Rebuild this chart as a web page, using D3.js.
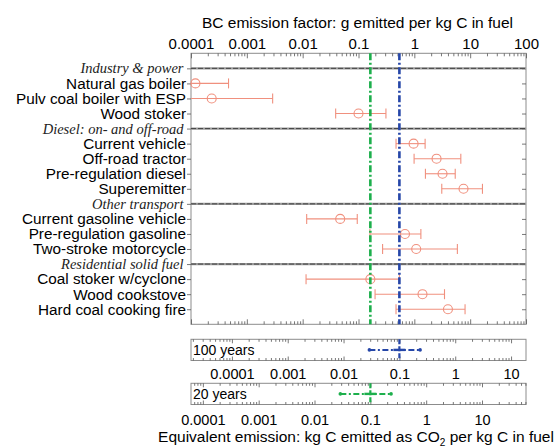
<!DOCTYPE html>
<html><head><meta charset="utf-8">
<script src="https://cdn.jsdelivr.net/npm/d3@7"></script>
<style>body{margin:0;background:#fff} svg{display:block}</style>
</head><body><svg id="c" width="558" height="448"></svg>
<script>
// ---------------- data ----------------
const groups = ["Industry & power", "Diesel: on- and off-road", "Other transport", "Residential solid fuel"];
const sources = ["Natural gas boiler", "Pulv coal boiler with ESP", "Wood stoker",
  "Current vehicle", "Off-road tractor", "Pre-regulation diesel", "Superemitter",
  "Current gasoline vehicle", "Pre-regulation gasoline", "Two-stroke motorcycle",
  "Coal stoker w/cyclone", "Wood cookstove", "Hard coal cooking fire"];
const sourceGroup = [0,0,0, 1,1,1,1, 2,2,2, 3,3,3];
const central = [0.00012, 0.000235, 0.10, 0.97, 2.5, 3.2, 7.6, 0.047, 0.68, 1.08, 0.163, 1.4, 4.0];
const lower   = [0.00008, 0.00008, 0.039, 0.47, 0.99, 1.58, 3.1, 0.0118, 0.16, 0.27, 0.0115, 0.198, 0.47];
const upper   = [0.00047, 0.0029, 0.31, 1.56, 6.8, 5.4, 16.6, 0.095, 1.31, 5.9, 0.54, 3.47, 8.1];
const bcTicks = [0.0001, 0.001, 0.01, 0.1, 1, 10, 100];
const bcTickLabels = ["0.0001", "0.001", "0.01", "0.1", "1", "10", "100"];
const eqTicks = [0.0001, 0.001, 0.01, 0.1, 1, 10];
const eqTickLabels = ["0.0001", "0.001", "0.01", "0.1", "1", "10"];
const horizons = ["100 years", "20 years"];
const bcAtReference = [0.54, 0.163];   // BC factor equal to the reference CO2-equivalent
const eqReference = 0.1;
const eqLower = 0.029, eqUpper = 0.235;
const horizonColors = ["#2546a8", "#1daf4c"];
const topTitle = "BC emission factor: g emitted per kg C in fuel";

// ---------------- layout ----------------
const FONT = "'Liberation Sans', Arial, Helvetica, sans-serif";
const SERIF = "'Liberation Serif', 'Times New Roman', serif";
const L = 191, R = 526, T = 53.3, B = 324.3;
const panelTop = [339.3, 383.3], panelH = 21.2, panelPad = [8, 10];
const salmon = "#f0907e", boxCol = "#8c8c8c", tickCol = "#555";

const svg = d3.select("#c");
const x = d3.scaleLog().domain([bcTicks[0], bcTicks[bcTicks.length-1]]).range([L, R]);

const rows = [];
groups.forEach((g, gi) => {
  rows.push({label: g, header: true});
  sources.forEach((s, i) => { if (sourceGroup[i] === gi) rows.push({label: s, header: false, i}); });
});
const y = d3.scaleLinear().domain([-1, rows.length]).range([T, B]);

function styleAxis(g, fs) {
  g.select(".domain").remove();
  g.selectAll("line").attr("stroke", tickCol).attr("stroke-width", 0.8);
  g.selectAll("text").attr("font-family", FONT).attr("font-size", fs).attr("fill", "#000");
}
function logAxis(parent, axisFn, scale, majors, labels, majSize, minSize, pad, fs, ty) {
  const minors = scale.ticks().filter(v => !majors.some(m => Math.abs(m / v - 1) < 1e-6));
  const g1 = parent.append("g").attr("transform", `translate(0,${ty})`)
    .call(axisFn(scale).tickValues(minors).tickSize(-minSize).tickFormat(""));
  styleAxis(g1, fs);
  const g2 = parent.append("g").attr("transform", `translate(0,${ty})`)
    .call(axisFn(scale).tickValues(majors).tickSizeInner(-majSize).tickSizeOuter(0).tickPadding(pad)
      .tickFormat((d, i) => labels ? labels[i] : ""));
  styleAxis(g2, fs);
}

// title
svg.append("text").attr("x", (L + R) / 2 - 1).attr("y", 28).attr("text-anchor", "middle")
  .attr("font-family", FONT).attr("font-size", 15.5).text(topTitle);

// main plot box
svg.append("rect").attr("x", L).attr("y", T).attr("width", R - L).attr("height", B - T)
  .attr("fill", "none").attr("stroke", boxCol).attr("stroke-width", 1);

logAxis(svg, d3.axisTop, x, bcTicks, bcTickLabels, 5, 3, 4, 15, T);
logAxis(svg, d3.axisBottom, x, bcTicks, null, 5, 3, 4, 15, B);

// row ticks
const rowIdx = d3.range(rows.length);
const gl = svg.append("g").attr("transform", `translate(${L},0)`)
  .call(d3.axisLeft(y).tickValues(rowIdx).tickSize(4).tickFormat(""));
styleAxis(gl, 14);
const gr = svg.append("g").attr("transform", `translate(${R},0)`)
  .call(d3.axisRight(y).tickValues(rowIdx).tickSize(-4).tickFormat(""));
styleAxis(gr, 14);

// header separator lines
rows.forEach((r, k) => {
  if (!r.header) return;
  svg.append("line").attr("x1", L).attr("x2", R).attr("y1", y(k)).attr("y2", y(k))
    .attr("stroke", "#9a9a9a").attr("stroke-width", 2.2);
  svg.append("line").attr("x1", L).attr("x2", R).attr("y1", y(k)).attr("y2", y(k))
    .attr("stroke", "#3a3a3a").attr("stroke-width", 0.9).attr("stroke-dasharray", "5,2");
});

// row labels
rows.forEach((r, k) => {
  svg.append("text").attr("x", r.header ? 183.5 : 186).attr("y", y(k)).attr("dy", "0.35em")
    .attr("text-anchor", "end")
    .attr("font-family", r.header ? SERIF : FONT)
    .attr("font-style", r.header ? "italic" : "normal")
    .attr("font-size", r.header ? 14.5 : 15.3)
    .attr("fill", r.header ? "#222" : "#000")
    .text(r.label);
});

// data: error bars & circles
const dmin = x.domain()[0], dmax = x.domain()[1];
rows.forEach((r, k) => {
  if (r.header) return;
  const i = r.i, yy = y(k);
  const lo = Math.max(lower[i], dmin), hi = Math.min(upper[i], dmax);
  svg.append("line").attr("x1", x(lo)).attr("x2", x(hi)).attr("y1", yy).attr("y2", yy)
    .attr("stroke", salmon).attr("stroke-width", 1.1);
  if (lower[i] >= dmin)
    svg.append("line").attr("x1", x(lower[i])).attr("x2", x(lower[i])).attr("y1", yy - 5).attr("y2", yy + 5)
      .attr("stroke", salmon).attr("stroke-width", 1.1);
  if (upper[i] <= dmax)
    svg.append("line").attr("x1", x(upper[i])).attr("x2", x(upper[i])).attr("y1", yy - 5).attr("y2", yy + 5)
      .attr("stroke", salmon).attr("stroke-width", 1.1);
  svg.append("circle").attr("cx", x(central[i])).attr("cy", yy).attr("r", 4.5)
    .attr("fill", "none").attr("stroke", salmon).attr("stroke-width", 1.1);
});

// reference vertical lines in main plot
bcAtReference.forEach((v, h) => {
  svg.append("line").attr("x1", x(v)).attr("x2", x(v)).attr("y1", T).attr("y2", B)
    .attr("stroke", horizonColors[h]).attr("stroke-width", 2.6).attr("stroke-dasharray", "7,2.5,2,2.5");
});

// lower panels
horizons.forEach((name, h) => {
  const top = panelTop[h], bot = top + panelH, cy = top + panelH / 2;
  const xs = d3.scaleLog().domain(x.domain().map(d => d * eqReference / bcAtReference[h])).range([L, R]);
  svg.append("rect").attr("x", L).attr("y", top).attr("width", R - L).attr("height", panelH)
    .attr("fill", "none").attr("stroke", boxCol).attr("stroke-width", 1);
  logAxis(svg, d3.axisTop, xs, eqTicks, null, 4, 2.5, 4, 14.5, top);
  logAxis(svg, d3.axisBottom, xs, eqTicks, eqTickLabels, 4, 2.5, panelPad[h], 14.5, bot);
  svg.append("text").attr("x", 193).attr("y", cy).attr("dy", "0.38em")
    .attr("font-family", FONT).attr("font-size", 14).text(name);
  const col = horizonColors[h];
  svg.append("line").attr("x1", xs(eqReference)).attr("x2", xs(eqReference)).attr("y1", top).attr("y2", bot)
    .attr("stroke", col).attr("stroke-width", 2.2).attr("stroke-dasharray", "5,2");
  svg.append("line").attr("x1", xs(eqLower)).attr("x2", xs(eqUpper)).attr("y1", cy).attr("y2", cy)
    .attr("stroke", col).attr("stroke-width", 2).attr("stroke-dasharray", "6,2.5,2,2.5");
  svg.append("line").attr("x1", xs(eqReference) - 6).attr("x2", xs(eqReference) + 6).attr("y1", cy).attr("y2", cy)
    .attr("stroke", col).attr("stroke-width", 2.4);
  [eqLower, eqUpper].forEach(v => svg.append("circle").attr("cx", xs(v)).attr("cy", cy).attr("r", 1.8).attr("fill", col));
});

// bottom title
const bt = svg.append("text").attr("x", 356).attr("y", 442).attr("text-anchor", "middle")
  .attr("font-family", FONT).attr("font-size", 15.5);
bt.append("tspan").text("Equivalent emission: kg C emitted as CO");
bt.append("tspan").attr("font-size", 10).attr("dy", 4).text("2");
bt.append("tspan").attr("dy", -4).text(" per kg C in fuel");
</script>
</body></html>
